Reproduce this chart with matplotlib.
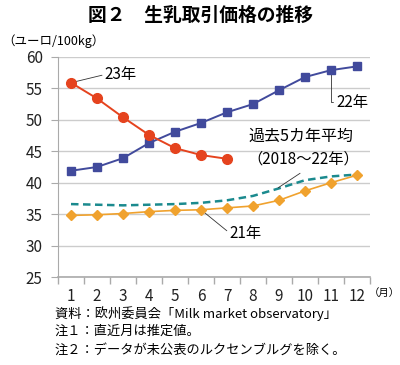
import matplotlib
matplotlib.use("Agg")
import matplotlib.pyplot as plt
import numpy as np

plt.rcParams['font.family'] = ['Noto Sans CJK JP', 'DejaVu Sans']

months = list(range(1, 13))
month_labels = [str(m) for m in months]
y23 = [55.9, 53.4, 50.4, 47.6, 45.5, 44.4, 43.8]
y22 = [41.9, 42.5, 43.9, 46.3, 48.1, 49.5, 51.2, 52.5, 54.7, 56.8, 57.9, 58.5]
y21 = [34.8, 34.9, 35.1, 35.4, 35.6, 35.7, 36.0, 36.3, 37.2, 38.7, 40.0, 41.2]
yavg = [36.6, 36.5, 36.4, 36.5, 36.6, 36.8, 37.2, 37.9, 39.1, 40.4, 41.0, 41.3]
yticks = [25, 30, 35, 40, 45, 50, 55, 60]

fig = plt.figure(figsize=(4.0, 3.65), dpi=100)
ax = fig.add_axes([0.145, 0.241, 0.78, 0.603])

c_red = '#E5431E'
c_blue = '#414A9C'
c_orange = '#F0A22E'
c_teal = '#1B8A8E'

ax.plot(months, yavg, color=c_teal, lw=1.8, ls=(0, (3, 1.8)), zorder=3)
ax.plot(months, y21, color=c_orange, lw=1.2, marker='D', ms=5, zorder=4)
ax.plot(months, y22, color=c_blue, lw=1.4, marker='s', ms=6, zorder=5)
ax.plot(months[:len(y23)], y23, color=c_red, lw=1.4, marker='o', ms=7, zorder=6)

ax.set_ylim(25, 60)
ax.set_xlim(0.5, 12.4)
ax.set_yticks(yticks)
ax.set_xticks(months)
ax.set_xticklabels(month_labels)
ax.set_xticks(np.arange(0.5, 12.6, 1), minor=True)
ax.tick_params(axis='x', which='major', length=0, labelsize=11, pad=8, colors='#222222')
ax.tick_params(axis='x', which='minor', length=5, color='#aaaaaa', width=1)
ax.tick_params(axis='y', length=5, color='#aaaaaa', labelsize=11, pad=6, labelcolor='#222222')
ax.grid(axis='y', color='#cccccc', lw=1)
for s in ['top', 'right']:
    ax.spines[s].set_visible(False)
ax.spines['left'].set_color('#aaaaaa')
ax.spines['bottom'].set_color('#aaaaaa')
ax.spines['bottom'].set_linewidth(1.2)

# annotations
ax.annotate('23年', xy=(1, y23[0]), xytext=(2.3, 57.2), fontsize=11,
            va='center', ha='left',
            arrowprops=dict(arrowstyle='-', color='#333333', lw=0.6,
                            shrinkA=0, shrinkB=0, relpos=(0, 0.5)))
ax.annotate('22年', xy=(11, y22[10]), xytext=(11.2, 52.8), fontsize=11,
            va='center', ha='left',
            arrowprops=dict(arrowstyle='-', color='#333333', lw=0.6,
                            connectionstyle='angle,angleA=0,angleB=90,rad=0',
                            shrinkA=0, shrinkB=0, relpos=(0, 0.5)))
ax.text(7.83, 47.3, '過去5カ年平均', fontsize=11.5, ha='left', va='center')
ax.text(7.8, 43.7, '（2018～22年）', fontsize=11, ha='left', va='center')
ax.annotate('', xy=(8.97, 39.2), xytext=(9.81, 41.5),
            arrowprops=dict(arrowstyle='-', color='#333333', lw=0.6,
                            shrinkA=0, shrinkB=0))
ax.annotate('21年', xy=(6, y21[5]), xytext=(7.1, 32.0), fontsize=11,
            va='center', ha='left',
            arrowprops=dict(arrowstyle='-', color='#333333', lw=0.6,
                            shrinkA=0, shrinkB=0, relpos=(0, 0.5)))

fig.text(0.5, 0.958, '図２　生乳取引価格の推移', ha='center', va='center',
         fontsize=13.5, fontweight='bold')
fig.text(0.005, 0.888, '（ユーロ/100kg）', ha='left', va='center', fontsize=9)
fig.text(1.0, 0.197, '（月）', ha='right', va='center', fontsize=7.5)

notes = ['資料：欧州委員会「Milk market observatory」',
         '注１：直近月は推定値。',
         '注２：データが未公表のルクセンブルグを除く。']
for i, t in enumerate(notes):
    fig.text(0.1375, 0.142 - i * 0.0505, t, ha='left', va='center', fontsize=9.5)

fig.savefig('out.png', dpi=100)
